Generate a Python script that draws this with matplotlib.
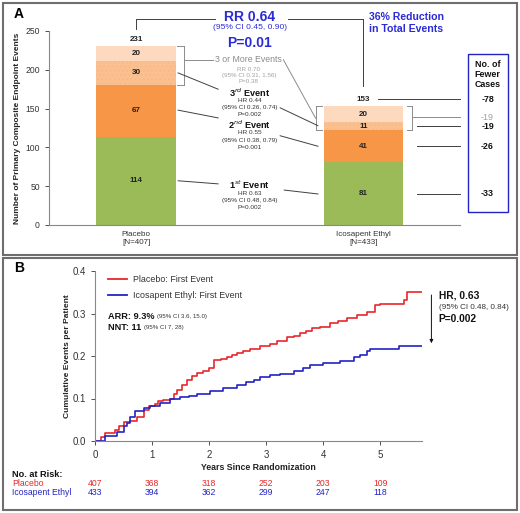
import matplotlib
matplotlib.use("Agg")
import matplotlib.pyplot as plt
from matplotlib.patches import Rectangle

plt.rcParams['font.family'] = ['Liberation Sans', 'DejaVu Sans']
plt.rcParams['mathtext.fontset'] = 'custom'
plt.rcParams['mathtext.rm'] = 'Liberation Sans'
plt.rcParams['mathtext.bf'] = 'Liberation Sans:bold'

# ---------- DATA ----------
groups = ["Placebo\n[N=407]", "Icosapent Ethyl\n[N=433]"]
first_ev = [114, 81]
second_ev = [67, 41]
third_ev = [30, 11]
more_ev = [20, 20]
totals = [231, 153]
fewer = ["-78", "-19", "-19", "-26", "-33"]

pbo_years = [0.00, 0.10, 0.18, 0.35, 0.42, 0.50, 0.62, 0.73, 0.85, 0.94, 1.05, 1.11,
             1.20, 1.32, 1.38, 1.43, 1.52, 1.61, 1.70, 1.78, 1.90, 1.99, 2.08, 2.20,
             2.31, 2.40, 2.49, 2.60, 2.72, 2.89, 3.07, 3.19, 3.36, 3.48, 3.60, 3.70,
             3.80, 3.95, 4.12, 4.25, 4.42, 4.59, 4.77, 4.91, 5.00, 5.42, 5.47, 5.73]
pbo_events = [0.000, 0.010, 0.018, 0.026, 0.036, 0.045, 0.048, 0.056, 0.073, 0.082, 0.088, 0.095,
              0.097, 0.100, 0.110, 0.120, 0.132, 0.144, 0.152, 0.159, 0.165, 0.171, 0.190, 0.194,
              0.197, 0.203, 0.208, 0.212, 0.216, 0.224, 0.228, 0.236, 0.244, 0.248, 0.253, 0.258,
              0.265, 0.268, 0.278, 0.283, 0.289, 0.296, 0.304, 0.320, 0.322, 0.331, 0.350, 0.350]
ipe_years = [0.00, 0.09, 0.18, 0.38, 0.50, 0.56, 0.61, 0.70, 0.85, 0.96, 1.14, 1.32, 1.49,
             1.65, 1.78, 2.02, 2.25, 2.49, 2.65, 2.78, 2.89, 3.07, 3.25, 3.48, 3.65, 3.77,
             4.00, 4.30, 4.53, 4.65, 4.77, 4.82, 5.32, 5.73]
ipe_events = [0.000, 0.000, 0.012, 0.022, 0.035, 0.042, 0.057, 0.071, 0.077, 0.082, 0.089, 0.098, 0.103,
              0.107, 0.110, 0.118, 0.124, 0.132, 0.138, 0.144, 0.150, 0.155, 0.157, 0.165, 0.171, 0.179,
              0.183, 0.188, 0.197, 0.202, 0.212, 0.216, 0.224, 0.224]
risk_years = [0, 1, 2, 3, 4, 5]
risk_pbo = [407, 368, 318, 252, 203, 109]
risk_ipe = [433, 394, 362, 299, 247, 118]
# ---------------------------

RED = '#E8262B'
BLUE = '#2323C4'
TXTBLUE = '#2B2BD6'
GRAY = '#8C8C8C'
LINE = '#404040'

fig = plt.figure(figsize=(5.2, 5.13), dpi=100)

# panel borders
for (x0, y0, x1, y1) in [(3, 3, 517, 255), (3, 258, 517, 510)]:
    fig.patches.append(Rectangle((x0 / 520, 1 - y1 / 513), (x1 - x0) / 520, (y1 - y0) / 513,
                                 transform=fig.transFigure, fill=False, edgecolor='#6E6E6E', lw=1.5))

fig.text(14 / 520, 1 - 14 / 513, "A", fontsize=10, fontweight='bold', va='center')
fig.text(14 / 520, 1 - 268 / 513, "B", fontsize=10, fontweight='bold', va='center')

# ---------- Panel A ----------
ax = fig.add_axes([49 / 520, 1 - 225 / 513, 411 / 520, 194 / 513])
x = [0, 1]
w = 0.35
bottom2 = first_ev
bottom3 = [a + b for a, b in zip(first_ev, second_ev)]
bottom4 = [a + b for a, b in zip(bottom3, third_ev)]
ax.bar(x, first_ev, w, color='#9BBB59')
ax.bar(x, second_ev, w, bottom=bottom2, color='#F79646')
ax.bar(x, third_ev, w, bottom=bottom3, color='#FAC090', hatch='....', edgecolor='#F8BA8C', lw=0)
ax.bar(x, more_ev, w, bottom=bottom4, color='#FCD9BF')

for i in x:
    segs = [(0, first_ev[i]), (bottom2[i], second_ev[i]), (bottom3[i], third_ev[i]), (bottom4[i], more_ev[i])]
    for b, h in segs:
        ax.text(i, b + h / 2, str(h), ha='center', va='center', fontsize=5.8, fontweight='bold', color='#222')
ax.text(0, 235, str(totals[0]), ha='center', va='bottom', fontsize=5.8, fontweight='bold', color='#222')
ax.text(1, 162, str(totals[1]), ha='center', va='center', fontsize=5.8, fontweight='bold', color='#222')

ax.set_xlim(-0.383, 1.425)
ax.set_ylim(0, 250)
ax.set_yticks(range(0, 251, 50))
ax.set_xticks(x)
ax.set_xticklabels(groups, fontsize=5.8, color='#333')
ax.tick_params(axis='x', length=0, pad=4)
ax.tick_params(axis='y', labelsize=6.2, colors='#333', length=3, width=0.6)
for s in ['top', 'right']:
    ax.spines[s].set_visible(False)
for s in ['left', 'bottom']:
    ax.spines[s].set_color('#888')
    ax.spines[s].set_linewidth(0.8)
ax.set_ylabel("Number of Primary Composite Endpoint Events", fontsize=6, fontweight='bold', color='#222', labelpad=3)


def seg(x0, y0, x1, y1, color=LINE, lw=0.7):
    ax.plot([x0, x1], [y0, y1], color=color, lw=lw, clip_on=False)


# top connector between totals
seg(0, 252.6, 0, 265.5)
seg(0, 265.5, 0.348, 265.5)
seg(0.67, 265.5, 1.0, 265.5)
seg(1.0, 265.5, 1.0, 179)
ax.text(0.5, 268, "RR 0.64", ha='center', va='center', fontsize=10, fontweight='bold', color=TXTBLUE)
ax.text(0.5, 254, "(95% CI 0.45, 0.90)", ha='center', va='center', fontsize=6.1, color=TXTBLUE)
ax.text(0.5, 234.5, "P=0.01", ha='center', va='center', fontsize=10, fontweight='bold', color=TXTBLUE)
ax.text(1.026, 260, "36% Reduction\nin Total Events", ha='left', va='center', fontsize=7.6,
        fontweight='bold', color=TXTBLUE, linespacing=1.25)

# brackets around 3+ events
seg(0.18, 231, 0.21, 231, GRAY)
seg(0.21, 231, 0.21, 181, GRAY)
seg(0.18, 181, 0.21, 181, GRAY)
seg(0.21, 213, 0.34, 213, GRAY)
seg(0.82, 153, 0.79, 153, GRAY)
seg(0.79, 153, 0.79, 122, GRAY)
seg(0.82, 122, 0.79, 122, GRAY)
seg(1.19, 153, 1.216, 153, GRAY)
seg(1.216, 153, 1.216, 122, GRAY)
seg(1.19, 122, 1.216, 122, GRAY)
seg(0.648, 213, 0.79, 137.5, GRAY)
ax.text(0.496, 213, "3 or More Events", ha='center', va='center', fontsize=6.3, color=GRAY)
for yy, t in zip([200.5, 193, 185.5], ["RR 0.70", "(95% CI 0.31, 1.56)", "P=0.38"]):
    ax.text(0.496, yy, t, ha='center', va='center', fontsize=4.5, color='#A0A0A0')

# event labels
labels = [(171, "3$^{rd}$ Event", ["HR 0.44", "(95% CI 0.26, 0.74)", "P=0.002"]),
          (129, "2$^{nd}$ Event", ["HR 0.55", "(95% CI 0.38, 0.79)", "P=0.001"]),
          (51.5, "1$^{st}$ Event", ["HR 0.63", "(95% CI 0.48, 0.84)", "P=0.002"])]
for yy, head, sub in labels:
    ax.text(0.5, yy, head, ha='center', va='center', fontsize=6.6, fontweight='bold', color='#111')
    for off, t in zip([10.3, 20.0, 29.2], sub):
        ax.text(0.5, yy - off, t, ha='center', va='center', fontsize=4.6, color='#333')

seg(0.185, 196, 0.361, 175)
seg(0.634, 151, 0.80, 128)
seg(0.185, 148, 0.361, 138)
seg(0.634, 115, 0.80, 101.5)
seg(0.185, 57, 0.361, 53)
seg(0.652, 45, 0.80, 40)

# fewer cases column
right_y = [162, 139, 127.5, 101.5, 40]
right_x0 = [1.066, 1.22, 1.235, 1.235, 1.235]
for yy, x0, lab, c in zip(right_y, right_x0, fewer, [LINE, GRAY, LINE, LINE, LINE]):
    seg(x0, yy, 1.427, yy, c)
    ax.text(1.546, yy, lab, ha='center', va='center', fontsize=6.4,
            fontweight='normal' if c == GRAY else 'bold', color='#A0A0A0' if c == GRAY else '#111')
ax.add_patch(Rectangle((1.458, 16.75), 0.176, 203.25, fill=False, edgecolor=BLUE, lw=1.0, clip_on=False))
ax.text(1.546, 194, "No. of\nFewer\nCases", ha='center', va='center', fontsize=6.4, fontweight='bold',
        color='#111', linespacing=1.2)

# ---------- Panel B ----------
bx = fig.add_axes([95 / 520, 1 - 441 / 513, 327 / 520, 170 / 513])
bx.plot(pbo_years, pbo_events, drawstyle='steps-post', color=RED, lw=1.2)
bx.plot(ipe_years, ipe_events, drawstyle='steps-post', color=BLUE, lw=1.2)
bx.set_xlim(0, 5.73)
bx.set_ylim(0, 0.4)
bx.set_xticks(risk_years)
bx.set_yticks([0, 0.1, 0.2, 0.3, 0.4])
bx.set_yticklabels(["0.0", "0.1", "0.2", "0.3", "0.4"])
bx.tick_params(labelsize=7, colors='#333', length=3, width=0.6)
for s in ['top', 'right']:
    bx.spines[s].set_visible(False)
for s in ['left', 'bottom']:
    bx.spines[s].set_color('#888')
    bx.spines[s].set_linewidth(0.8)
bx.set_ylabel("Cumulative Events per Patient", fontsize=6.1, fontweight='bold', color='#222', labelpad=1)
bx.set_xlabel("Years Since Randomization", fontsize=6.3, fontweight='bold', color='#222', labelpad=2)

bx.plot([0.228, 0.561], [0.381, 0.381], color=RED, lw=1.3, clip_on=False)
bx.plot([0.228, 0.561], [0.3435, 0.3435], color=BLUE, lw=1.3, clip_on=False)
bx.text(0.667, 0.381, "Placebo: First Event", va='center', fontsize=6.4, color='#333')
bx.text(0.667, 0.3435, "Icosapent Ethyl: First Event", va='center', fontsize=6.4, color='#333')
t1 = bx.text(0.228, 0.294, "ARR: 9.3%", va='center', fontsize=6.6, fontweight='bold', color='#111')
bx.annotate("(95% CI 3.6, 15.0)", xy=(1, 0.5), xycoords=t1, xytext=(2, 0), textcoords='offset points',
            va='center', fontsize=4.4, color='#333')
t2 = bx.text(0.228, 0.266, "NNT: 11", va='center', fontsize=6.6, fontweight='bold', color='#111')
bx.annotate("(95% CI 7, 28)", xy=(1, 0.5), xycoords=t2, xytext=(2, 0), textcoords='offset points',
            va='center', fontsize=4.4, color='#333')

bx.annotate("", xy=(5.895, 0.2235), xytext=(5.895, 0.35), annotation_clip=False,
            arrowprops=dict(arrowstyle='-|>', color='#111', lw=0.7, mutation_scale=5))
bx.text(6.02, 0.3435, "HR, 0.63", va='center', fontsize=7.4, fontweight='bold', color='#111')
bx.text(6.02, 0.315, "(95% CI 0.48, 0.84)", va='center', fontsize=5.8, color='#333')
bx.text(6.02, 0.287, "P=0.002", va='center', fontsize=7.4, fontweight='bold', color='#111')

bx.text(-1.456, -0.078, "No. at Risk:", va='center', fontsize=6.6, fontweight='bold', color='#111')
bx.text(-1.456, -0.101, "Placebo", va='center', fontsize=6.2, color=RED)
bx.text(-1.456, -0.122, "Icosapent Ethyl", va='center', fontsize=6.2, color=BLUE)
for yr, a, b in zip(risk_years, risk_pbo, risk_ipe):
    bx.text(yr, -0.101, str(a), ha='center', va='center', fontsize=6.2, color=RED)
    bx.text(yr, -0.122, str(b), ha='center', va='center', fontsize=6.2, color=BLUE)

fig.savefig("out.png", dpi=100)
